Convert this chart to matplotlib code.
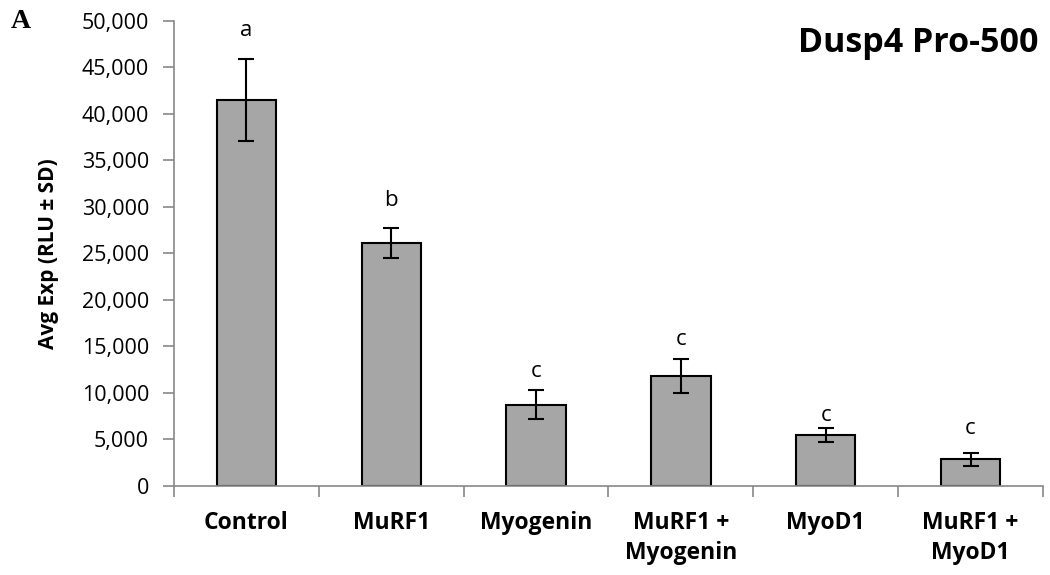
import matplotlib
matplotlib.use("Agg")
import matplotlib.pyplot as plt
from matplotlib.ticker import FuncFormatter
import numpy as np

# values
groups = ["Control", "MuRF1", "Myogenin", "MuRF1 +\nMyogenin", "MyoD1", "MuRF1 +\nMyoD1"]
avg_exp = [41500, 26100, 8750, 11800, 5450, 2850]
sd = [4450, 1600, 1550, 1850, 750, 650]
letters = ["a", "b", "c", "c", "c", "c"]
letter_y = [49000, 30700, 12300, 15700, 7600, 6200]

plt.rcParams['font.family'] = ['Open Sans', 'DejaVu Sans']

fig = plt.figure(figsize=(10.5, 5.75), dpi=100)
ax = fig.add_axes([0.1657, 0.1548, 0.8276, 0.8087])

x = np.arange(len(groups))
ax.bar(x, avg_exp, width=0.41, color="#a6a6a6", edgecolor="black", linewidth=1.5, zorder=2)
ax.errorbar(x, avg_exp, yerr=sd, fmt="none", ecolor="black", elinewidth=1.5,
            capsize=6, capthick=1.5, zorder=3)

for xi, lab, ly in zip(x, letters, letter_y):
    ax.text(xi, ly, lab, ha="center", va="center", fontsize=16)

ax.set_xlim(-0.5, len(groups) - 0.5)
ax.set_ylim(0, 50000)
ax.set_yticks(np.arange(0, 50001, 5000))
ax.yaxis.set_major_formatter(FuncFormatter(lambda v, p: f"{int(v):,}"))
ax.tick_params(axis="y", labelsize=15.5, length=8, color="#888888", width=1.2, pad=10)

# category boundary ticks on x
ax.set_xticks(np.arange(-0.5, len(groups), 1.0))
ax.set_xticklabels([])
ax.set_xticks(x, minor=True)
ax.set_xticklabels(groups, minor=True, fontsize=16.5, fontweight="bold", va="top",
                   linespacing=1.35)
ax.tick_params(axis="x", which="major", length=8, color="#888888", width=1.2)
ax.tick_params(axis="x", which="minor", length=0, pad=18)

for s in ["top", "right"]:
    ax.spines[s].set_visible(False)
for s in ["left", "bottom"]:
    ax.spines[s].set_color("#888888")
    ax.spines[s].set_linewidth(1.2)

ax.set_ylabel("Avg Exp (RLU ± SD)", fontsize=15, fontweight="bold", labelpad=16)

fig.text(0.9895, 0.925, "Dusp4 Pro-500", ha="right", va="center", fontsize=24.5, fontweight="bold")
fig.text(0.010, 0.962, "A", ha="left", va="center", fontsize=20, fontweight="bold",
         family="Liberation Serif")

fig.savefig("out.png", dpi=100)
